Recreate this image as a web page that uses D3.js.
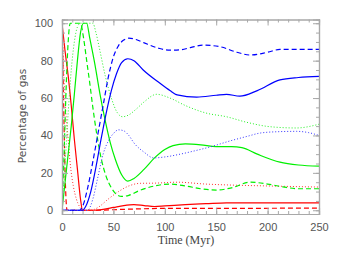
<!DOCTYPE html>
<html>
<head>
<meta charset="utf-8">
<script src="https://cdn.jsdelivr.net/npm/d3@7.9.0/dist/d3.min.js"></script>
<style>
  body { margin: 0; background: #fff; }
  svg { display: block; }
</style>
</head>
<body>
<div id="chart"></div>
<script>
// time in Myr, percentage of gas
const redSolid = [[0,100],[3,85],[6,72],[9,56],[12,38],[15,22],[18,6],[20,0],[30,0],[40,0.5],[50,1.5],[60,2.5],[70,3],[80,2.5],[90,2],[100,2.3],[120,3],[140,3.5],[160,4],[190,4],[250,4]];
const redDashed = [[0,100],[1,75],[2,45],[3,20],[4,5],[5,0],[30,0],[60,0.5],[100,1],[150,1],[250,1.2]];
const redDotted = [[0,100],[1,85],[2,70],[3,60],[4,50],[6,38],[8,25],[11,13],[14,6],[17,2],[20,0],[28,0],[35,1.5],[45,6],[55,10],[65,13],[76,14.4],[90,14.5],[112,15],[140,14],[163,13.5],[200,13],[250,12.4]];

const greenSolid = [[0,0],[3,15],[6,30],[9,45],[12,62],[15,80],[18,95],[21,100],[24,100],[27,92],[32,78],[37,62],[42,48],[47,36],[52,27],[58,19],[64,15.6],[70,17],[80,22],[90,28],[100,32.5],[108,34.6],[120,35.5],[135,35],[150,34],[165,34],[175,33.5],[190,30],[212,25.7],[230,24.2],[250,23.6]];
const greenDashed = [[0,0],[2,30],[4,65],[6,90],[8,100],[18,100],[21,92],[24,80],[27,68],[30,55],[34,40],[38,28],[43,18],[48,12],[53,8.5],[58,7.4],[65,8],[75,10.5],[90,13],[105,14],[120,13],[135,11.5],[150,10.8],[165,12],[183,15],[200,14],[215,12.5],[230,11.5],[250,11.5]];
const greenDotted = [[0,0],[3,25],[6,52],[9,75],[12,90],[15,98],[18,100],[30,100],[33,95],[37,85],[42,72],[48,60],[54,52],[59,50],[65,51],[72,54],[80,58],[92,62],[105,60],[120,56],[140,52],[160,50],[180,47],[202,44.7],[228,44],[250,46]];

const blueSolid = [[0,0],[20,0],[23,2],[28,10],[33,23],[38,38],[43,52],[48,64],[53,73],[58,79],[64,81],[70,80],[79,75],[95,68],[105,64],[112,61.7],[131,60.5],[150,61.5],[160,62],[173,61],[190,64],[212,69.7],[230,71],[250,71.6]];
const blueDashed = [[0,0],[17,0],[20,2],[25,12],[30,26],[35,41],[40,56],[45,71],[50,82],[55,88],[60,91],[65,92],[72,91.3],[80,89.5],[95,86.5],[105,85.6],[115,85.8],[125,87],[137,88.3],[154,87.4],[170,84.5],[183,83],[200,84.5],[212,86],[250,86]];
const blueDotted = [[0,0],[25,0],[30,6],[35,18],[40,30],[45,37],[50,41],[55,43],[60,42.5],[65,40],[70,36],[80,31],[89,28],[100,28.5],[115,30],[127,31.5],[145,34],[163,37],[180,39.5],[193,41.3],[210,42],[228,42.2],[240,41.5],[250,40]];

const xTicks = [0, 50, 100, 150, 200, 250];
const yTicks = [0, 20, 40, 60, 80, 100];

const series = [
  {data: redSolid, color: "#ff0000", dash: null},
  {data: redDashed, color: "#ff0000", dash: "5,3"},
  {data: redDotted, color: "#ff3333", dash: "1,2"},
  {data: greenSolid, color: "#00f000", dash: null},
  {data: greenDashed, color: "#00f000", dash: "5,3"},
  {data: greenDotted, color: "#22f022", dash: "1,2"},
  {data: blueSolid, color: "#0000ff", dash: null},
  {data: blueDashed, color: "#0000ff", dash: "5,3"},
  {data: blueDotted, color: "#3333ff", dash: "1,2"}
];

const width = 338, height = 254;
const margin = {left: 62, right: 19, top: 19.5, bottom: 40};

const svg = d3.select("#chart").append("svg")
  .attr("width", width)
  .attr("height", height);

const x = d3.scaleLinear().domain([0, 250]).range([margin.left, width - margin.right]);
const y = d3.scaleLinear().domain([-2, 102]).range([height - margin.bottom, margin.top]);

const axisColor = "#a8a8a8";
const textColor = "#555";

svg.append("defs").append("clipPath").attr("id", "clip")
  .append("rect")
  .attr("x", x(0)).attr("y", y(102))
  .attr("width", x(250) - x(0)).attr("height", y(-2) - y(102));

const line = d3.line()
  .x(d => x(d[0]))
  .y(d => y(d[1]))
  .curve(d3.curveMonotoneX);

svg.append("g").attr("clip-path", "url(#clip)")
  .selectAll("path")
  .data(series)
  .enter()
  .append("path")
  .attr("d", d => line(d.data))
  .attr("fill", "none")
  .attr("stroke", d => d.color)
  .attr("stroke-width", d => d.dash === "1,2" ? 1 : 1.2)
  .attr("stroke-dasharray", d => d.dash);

// axes, ticks on all four sides pointing inward
const axB = d3.axisBottom(x).tickValues(xTicks).tickSize(-6).tickPadding(9);
const axBMinor = d3.axisBottom(x).tickValues(d3.range(0, 251, 10)).tickSize(-3).tickFormat("");
const axT = d3.axisTop(x).tickValues(xTicks).tickSize(-6).tickFormat("");
const axTMinor = d3.axisTop(x).tickValues(d3.range(0, 251, 10)).tickSize(-3).tickFormat("");
const axL = d3.axisLeft(y).tickValues(yTicks).tickSize(-6).tickPadding(9);
const axLMinor = d3.axisLeft(y).tickValues(d3.range(0, 101, 5)).tickSize(-3).tickFormat("");
const axR = d3.axisRight(y).tickValues(yTicks).tickSize(-6).tickFormat("");
const axRMinor = d3.axisRight(y).tickValues(d3.range(0, 101, 5)).tickSize(-3).tickFormat("");

const gB = svg.append("g").attr("transform", "translate(0," + y(-2) + ")");
gB.call(axB); gB.append("g").call(axBMinor);
const gT = svg.append("g").attr("transform", "translate(0," + y(102) + ")");
gT.call(axT); gT.append("g").call(axTMinor);
const gL = svg.append("g").attr("transform", "translate(" + x(0) + ",0)");
gL.call(axL); gL.append("g").call(axLMinor);
const gR = svg.append("g").attr("transform", "translate(" + x(250) + ",0)");
gR.call(axR); gR.append("g").call(axRMinor);

svg.selectAll(".domain").attr("stroke", axisColor).attr("stroke-width", 1.2);
svg.selectAll(".tick line").attr("stroke", axisColor);
svg.selectAll(".tick text")
  .attr("fill", textColor)
  .style("font-family", "'Liberation Sans', sans-serif")
  .style("font-size", "11px");

svg.append("text")
  .attr("x", 186)
  .attr("y", 244)
  .attr("text-anchor", "middle")
  .attr("fill", "#444")
  .style("font-family", "'Liberation Serif', serif")
  .style("font-size", "12px")
  .text("Time (Myr)");

svg.append("text")
  .attr("transform", "translate(26," + 116 + ") rotate(-90)")
  .attr("text-anchor", "middle")
  .attr("fill", textColor)
  .style("font-family", "'DejaVu Sans', sans-serif")
  .style("font-size", "10.5px")
  .text("Percentage of gas");
</script>
</body>
</html>
